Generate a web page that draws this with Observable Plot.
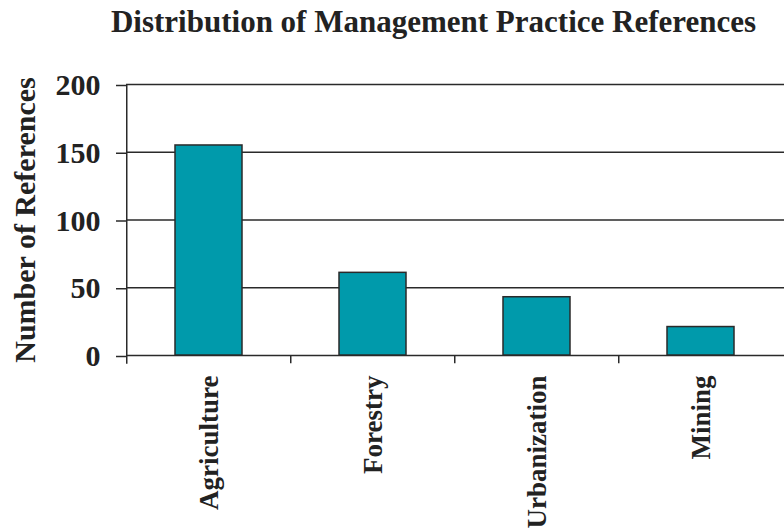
<!DOCTYPE html>
<html>
<head>
<meta charset="utf-8">
<script src="https://cdn.jsdelivr.net/npm/d3@7"></script>
<script src="https://cdn.jsdelivr.net/npm/@observablehq/plot@0.6"></script>
<style>
  html, body { margin: 0; padding: 0; background: #fff; }
  #title {
    width: 701px; margin-left: 83px; height: 48px; line-height: 43px;
    text-align: center; white-space: nowrap;
    font-family: "Liberation Serif", "Times New Roman", serif;
    font-weight: bold; font-size: 31px; color: #222;
  }
  svg { display: block; }
</style>
</head>
<body>
<div id="title">Distribution of Management Practice References</div>
<div id="chart"></div>
<script>
const categories = ["Agriculture", "Forestry", "Urbanization", "Mining"];
const values = [155, 61, 43, 21];
const yTicks = [0, 50, 100, 150, 200];
const yLabel = "Number of References";

const data = categories.map((c, i) => ({category: c, value: values[i]}));

const W = 784, H = 481;
const mL = 126, mR = 0, mT = 36, mB = 174;
const step = (W - mL - mR) / categories.length;
const lineColor = "#2a2a2a";
const serif = "Liberation Serif, Times New Roman, serif";

const chart = Plot.plot({
  width: W, height: H,
  marginLeft: mL, marginRight: mR, marginTop: mT, marginBottom: mB,
  style: {fontFamily: serif, background: "#fff", color: "#222", overflow: "visible"},
  x: {type: "band", domain: categories, paddingInner: 0.59, paddingOuter: 0.295, axis: null},
  y: {domain: [0, 200], axis: null},
  marks: [
    Plot.ruleY(yTicks, {stroke: lineColor, strokeWidth: 1.5}),
    Plot.barY(data, {x: "category", y: "value", fill: "#009aab", stroke: lineColor, strokeWidth: 1.5}),
    Plot.axisY({ticks: yTicks, tickSize: 10, tickPadding: 16, stroke: lineColor, strokeWidth: 1.5,
      fontSize: 30, fontWeight: "bold", tickFormat: d => d, label: null, dy: 1, fill: "#222"}),
    Plot.ruleX([categories[0]], {x: d => d, dx: -step / 2, y1: -6.5, y2: 200, stroke: lineColor, strokeWidth: 1.5}),
    Plot.ruleX(categories.slice(1), {x: d => d, dx: -step / 2, y1: -6, y2: 0, stroke: lineColor, strokeWidth: 1.5}),
    Plot.text(categories, {x: d => d, frameAnchor: "bottom", rotate: -90, textAnchor: "end",
      lineAnchor: "middle", dy: 20, fontSize: 27, fontWeight: "bold", fill: "#222"}),
    Plot.text([yLabel], {frameAnchor: "left", rotate: -90, textAnchor: "middle", lineAnchor: "bottom", dx: -92,
      fontSize: 30, fontWeight: "bold", fill: "#222"})
  ]
});
document.getElementById("chart").appendChild(chart);
</script>
</body>
</html>
